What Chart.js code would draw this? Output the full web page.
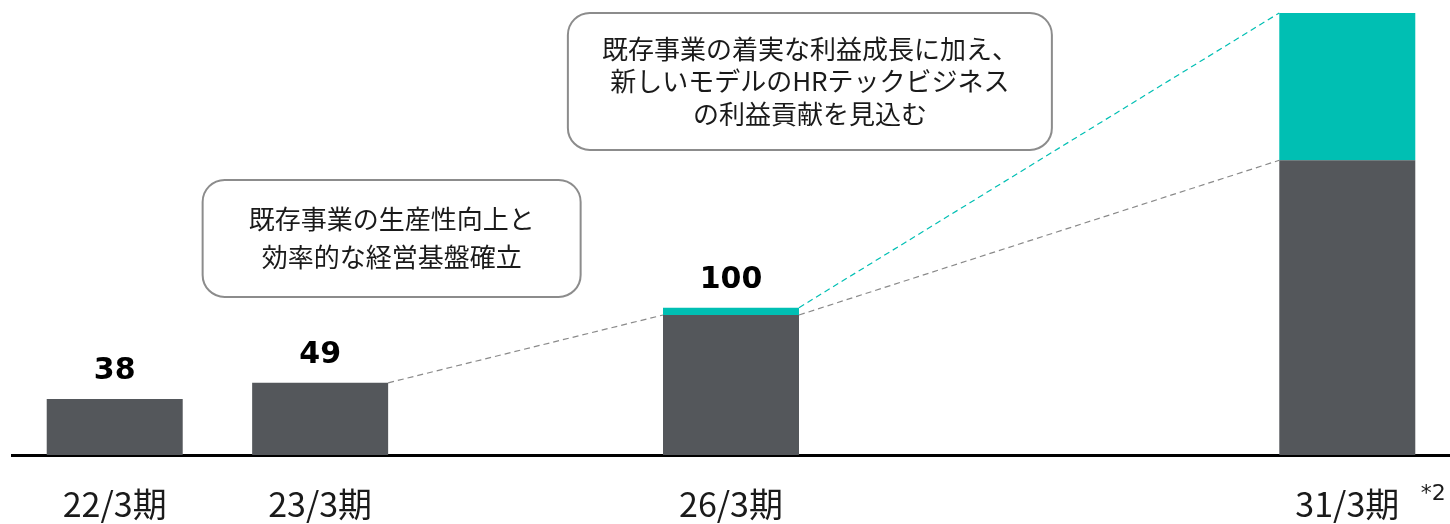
<!DOCTYPE html>
<html>
<head>
<meta charset="utf-8">
<script src="https://cdn.jsdelivr.net/npm/chart.js@4"></script>
<style>
  html, body { margin: 0; padding: 0; background: #fff; }
  #wrap { width: 1450px; height: 524px; position: relative; }
</style>
</head>
<body>
<div id="wrap"><canvas id="chart"></canvas></div>
<script>
// categories (empty slots keep the time spacing between periods)
const categories = ['22/3期', '23/3期', '', '26/3期', '', '', '31/3期'];
// existing business profit
const existingValues = [38, 49, null, 95, null, null, 200];
// HR tech business profit
const hrTechValues = [0, 0, null, 5, null, null, 100];
// labels shown above bars
const totalLabels = ['38', '49', null, '100', null, null, null];

// dashed connectors: from bar, to bar, top of which dataset
const links = [
    { from: 1, to: 3, ds: 0, color: '#8a8a8a' },
    { from: 3, to: 6, ds: 0, color: '#8a8a8a' },
    { from: 3, to: 6, ds: 1, color: '#00bfb3' }
];

// callouts anchored in data units (x = category index, y = value)
const callouts = [
    { x: 1.348, y: 147, w: 378, h: 117, lines: ['既存事業の生産性向上と', '効率的な経営基盤確立'], gap: 38 },
    { x: 3.384, y: 253.5, w: 484, h: 137, lines: ['既存事業の着実な利益成長に加え、', '新しいモデルのHRテックビジネス', 'の利益貢献を見込む'], gap: 32.5 }
];

const GREY = '#54575b';
const TEAL = '#00bfb3';

const stackTop = (i, ds) => {
    let s = existingValues[i] || 0;
    if (ds >= 1) s += hrTechValues[i] || 0;
    return s;
};

const roundRect = (ctx, x, y, w, h, r) => {
    ctx.beginPath();
    ctx.moveTo(x + r, y);
    ctx.lineTo(x + w - r, y);
    ctx.arcTo(x + w, y, x + w, y + r, r);
    ctx.lineTo(x + w, y + h - r);
    ctx.arcTo(x + w, y + h, x + w - r, y + h, r);
    ctx.lineTo(x + r, y + h);
    ctx.arcTo(x, y + h, x, y + h - r, r);
    ctx.lineTo(x, y + r);
    ctx.arcTo(x, y, x + r, y, r);
    ctx.closePath();
};

const extras = {
    id: 'extras',
    beforeDatasetsDraw(chart) {
        const ctx = chart.ctx;
        const meta = chart.getDatasetMeta(0);
        const ys = chart.scales.y;
        ctx.save();
        ctx.lineWidth = 1.2;
        ctx.setLineDash([6, 4]);
        for (const l of links) {
            const a = meta.data[l.from], b = meta.data[l.to];
            ctx.strokeStyle = l.color;
            ctx.beginPath();
            ctx.moveTo(a.x + a.width / 2, ys.getPixelForValue(stackTop(l.from, l.ds)));
            ctx.lineTo(b.x - b.width / 2, ys.getPixelForValue(stackTop(l.to, l.ds)));
            ctx.stroke();
        }
        ctx.restore();
    },
    afterDatasetsDraw(chart) {
        const ctx = chart.ctx;
        const xs = chart.scales.x, ys = chart.scales.y;
        ctx.save();
        // value labels
        ctx.fillStyle = '#000';
        ctx.font = 'bold 30px "DejaVu Sans"';
        ctx.textAlign = 'center';
        ctx.textBaseline = 'alphabetic';
        totalLabels.forEach((t, i) => {
            if (!t) return;
            ctx.fillText(t, xs.getPixelForValue(i), ys.getPixelForValue(stackTop(i, 1)) - 20);
        });
        // callouts
        for (const c of callouts) {
            const cx = xs.getPixelForValue(c.x), cy = ys.getPixelForValue(c.y);
            ctx.fillStyle = '#fff';
            ctx.strokeStyle = '#8c8c8c';
            ctx.lineWidth = 2;
            roundRect(ctx, cx - c.w / 2, cy - c.h / 2, c.w, c.h, 22);
            ctx.fill();
            ctx.stroke();
            ctx.fillStyle = '#1a1a1a';
            ctx.font = '26px "Noto Sans CJK JP"';
            ctx.textBaseline = 'middle';
            const n = c.lines.length;
            c.lines.forEach((line, k) => {
                ctx.fillText(line, cx, cy + (k - (n - 1) / 2) * c.gap);
            });
        }
        // footnote mark
        ctx.fillStyle = '#1a1a1a';
        ctx.font = '22px "DejaVu Sans"';
        ctx.textAlign = 'center';
        ctx.textBaseline = 'alphabetic';
        ctx.fillText('*2', xs.getPixelForValue(6) + 86, 500);
        ctx.restore();
    }
};

const canvas = document.getElementById('chart');
const chart = new Chart(canvas, {
    type: 'bar',
    data: {
        labels: categories,
        datasets: [
            {
                label: '既存事業',
                data: existingValues,
                backgroundColor: GREY,
                borderWidth: 0
            },
            {
                label: 'HRテック',
                data: hrTechValues,
                backgroundColor: TEAL,
                borderWidth: 0
            }
        ]
    },
    plugins: [extras],
    options: {
        responsive: true,
        maintainAspectRatio: false,
        animation: false,
        layout: { padding: { left: 12, right: 0, top: 10, bottom: 0 } },
        datasets: {
            bar: { barPercentage: 0.662, categoryPercentage: 1 }
        },
        plugins: {
            legend: { display: false },
            tooltip: { enabled: false }
        },
        scales: {
            x: {
                stacked: true,
                grid: { display: false },
                border: { display: true, color: '#000', width: 3 },
                ticks: {
                    color: '#1a1a1a',
                    font: { family: '"Noto Sans CJK JP"', size: 34 },
                    padding: 21,
                    maxRotation: 0,
                    autoSkip: false
                },
                afterFit: s => { s.height = 69; }
            },
            y: {
                stacked: true,
                display: false,
                min: 0,
                max: 302
            }
        }
    }
});
</script>
</body>
</html>
